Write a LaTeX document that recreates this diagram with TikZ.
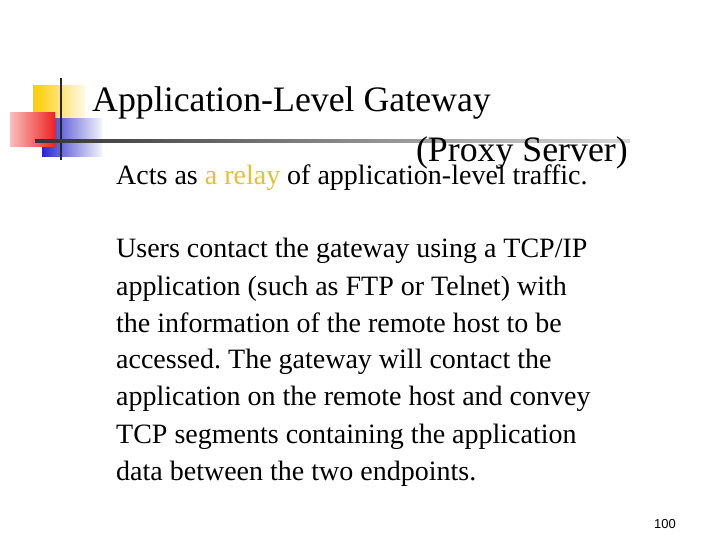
\documentclass[tikz,border=0pt]{standalone}
\usepackage{fontspec}
\setmainfont{Liberation Serif}
\newfontfamily\arialf{Liberation Sans}
\frenchspacing
\begin{document}
\begin{tikzpicture}[x=1pt,y=-1pt,
  body/.style={anchor=base west,inner sep=0pt,font=\fontsize{28}{37}\selectfont}]
\useasboundingbox[fill=white] (0,0) rectangle (720,540);
\definecolor{ylw}{RGB}{255,204,0}
\definecolor{blu}{RGB}{40,40,200}
\definecolor{rl}{RGB}{238,34,34}
\definecolor{relay}{RGB}{230,190,60}
\shade[left color=ylw,right color=ylw!10] (33,86) rectangle (85,119);
\shade[left color=blu,right color=blu!5] (42,119) rectangle (102,157);
\shade[left color=rl!30,right color=rl] (10,113) rectangle (55,147);
\draw[line width=2pt,black!85] (61,78) -- (61,160);
\shade[left color=black!80,right color=black!15] (35,140) rectangle (630,142.5);
\node (t1) [anchor=base west,inner sep=0pt,font=\fontsize{35.8}{36}\selectfont] at (92,112) {Application-Level Gateway};
\node (t2) [anchor=base east,inner sep=0pt,font=\fontsize{35.8}{36}\selectfont] at (628,162) {(Proxy Server)};
\node (l0) [body] at (116,185) {Acts as \textcolor{relay}{a relay} of application-level traffic.};
\node (l1) [body] at (116,258) {Users contact the gateway using a TCP/IP};
\node (l2) [body] at (116,295) {application (such as FTP or Telnet) with};
\node (l3) [body] at (116,332) {the information of the remote host to be};
\node (l4) [body] at (116,368) {accessed. The gateway will contact the};
\node (l5) [body] at (116,405) {application on the remote host and convey};
\node (l6) [body] at (116,443) {TCP segments containing the application};
\node (l7) [body] at (116,480) {data between the two endpoints.};
\node (pg) [anchor=base east,inner sep=0pt,font=\fontsize{13}{13}\selectfont\arialf] at (676,528) {100};
\end{tikzpicture}
\end{document}
